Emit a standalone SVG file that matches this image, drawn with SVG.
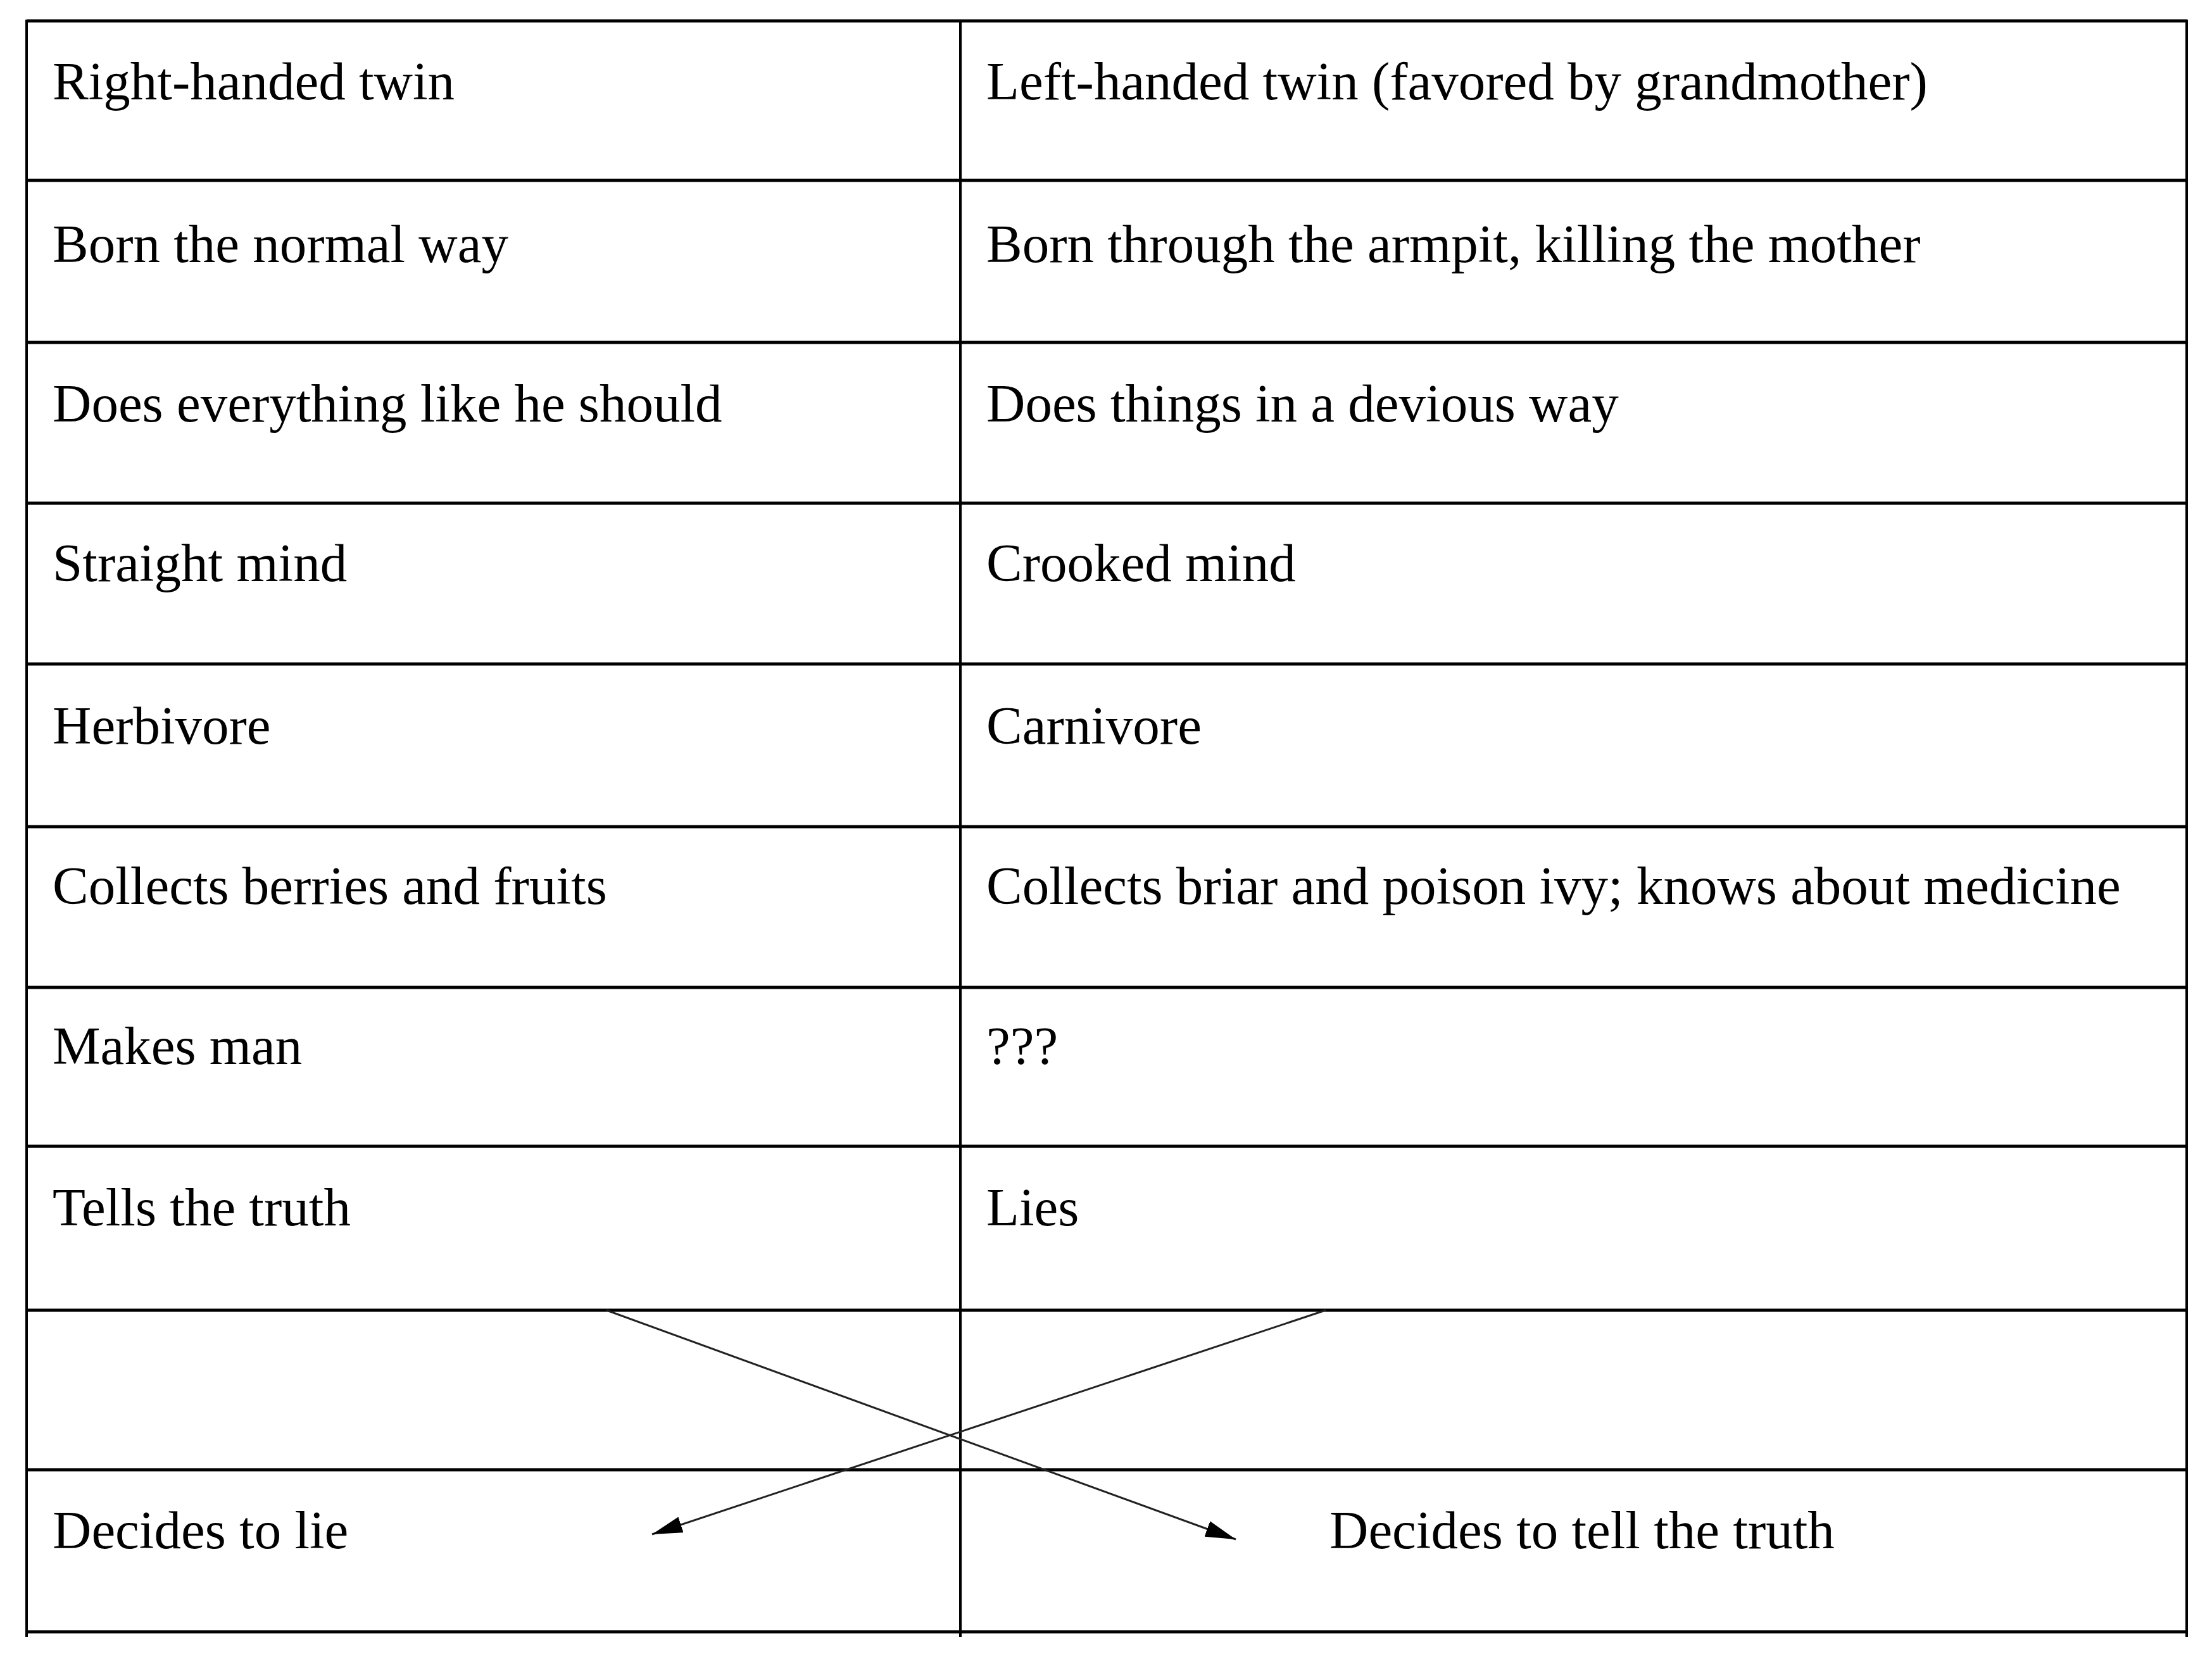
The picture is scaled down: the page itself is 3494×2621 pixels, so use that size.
<svg xmlns="http://www.w3.org/2000/svg" width="3494" height="2621" viewBox="0 0 3494 2621">
<style>
.t{font-family:"Liberation Serif","DejaVu Serif",serif;font-size:85px;fill:#000}
.h{stroke:#000;stroke-width:5}
.v{stroke:#000;stroke-width:4}
.c{stroke:#222;stroke-width:3;fill:none}
</style>
<defs>
<marker id="a" viewBox="0 0 10 10" refX="10" refY="5" markerWidth="48" markerHeight="26" markerUnits="userSpaceOnUse" orient="auto" preserveAspectRatio="none"><path d="M0,0 L10,5 L0,10 z" fill="#000"/></marker></defs>
<rect width="3494" height="2621" fill="#fff"/>
<g id="grid">
<line class="h" x1="42" y1="33" x2="3455" y2="33"/>
<line class="h" x1="42" y1="285" x2="3455" y2="285"/>
<line class="h" x1="42" y1="541" x2="3455" y2="541"/>
<line class="h" x1="42" y1="795" x2="3455" y2="795"/>
<line class="h" x1="42" y1="1049" x2="3455" y2="1049"/>
<line class="h" x1="42" y1="1306" x2="3455" y2="1306"/>
<line class="h" x1="42" y1="1560" x2="3455" y2="1560"/>
<line class="h" x1="42" y1="1811" x2="3455" y2="1811"/>
<line class="h" x1="42" y1="2070" x2="3455" y2="2070"/>
<line class="h" x1="42" y1="2322" x2="3455" y2="2322"/>
<line class="h" x1="42" y1="2578" x2="3455" y2="2578"/>
<line class="v" x1="42" y1="31" x2="42" y2="2586"/>
<line class="v" x1="1517" y1="31" x2="1517" y2="2586"/>
<line class="v" x1="3454" y1="31" x2="3454" y2="2586"/>
</g>
<g id="r1"><text class="t" x="83" y="157">Right-handed twin</text><text class="t" x="1558" y="157">Left-handed twin (favored by grandmother)</text></g>
<g id="r2"><text class="t" x="83" y="414">Born the normal way</text><text class="t" x="1558" y="414">Born through the armpit, killing the mother</text></g>
<g id="r3"><text class="t" x="83" y="666">Does everything like he should</text><text class="t" x="1558" y="666">Does things in a devious way</text></g>
<g id="r4"><text class="t" x="83" y="918">Straight mind</text><text class="t" x="1558" y="918">Crooked mind</text></g>
<g id="r5"><text class="t" x="83" y="1175">Herbivore</text><text class="t" x="1558" y="1175">Carnivore</text></g>
<g id="r6"><text class="t" x="83" y="1428">Collects berries and fruits</text><text class="t" x="1558" y="1428">Collects briar and poison ivy; knows about medicine</text></g>
<g id="r7"><text class="t" x="83" y="1681">Makes man</text><text class="t" x="1558" y="1681">???</text></g>
<g id="r8"><text class="t" x="83" y="1936">Tells the truth</text><text class="t" x="1558" y="1936">Lies</text></g>
<g id="r10"><text class="t" x="83" y="2446">Decides to lie</text><text class="t" x="2100" y="2446">Decides to tell the truth</text></g>
<g id="connectors">
<line class="c" x1="958" y1="2070" x2="1952" y2="2432" marker-end="url(#a)"/>
<line class="c" x1="2094" y1="2070" x2="1030" y2="2424" marker-end="url(#a)"/>
</g>
</svg>
